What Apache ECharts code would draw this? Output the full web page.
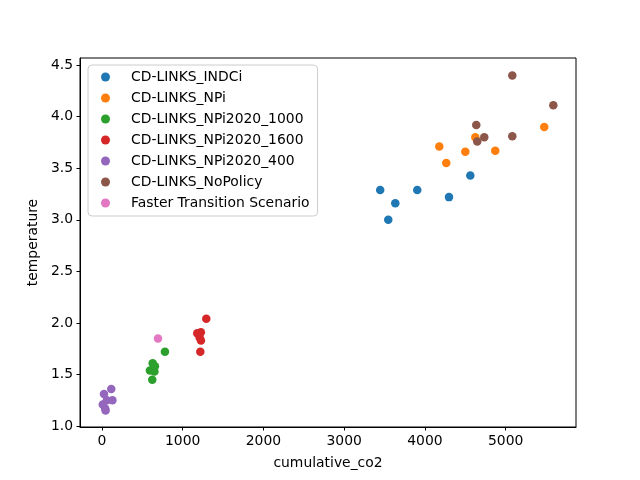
<!DOCTYPE html>
<html>
<head>
<meta charset="utf-8">
<script src="https://cdn.jsdelivr.net/npm/echarts@6/dist/echarts.min.js"></script>
<style>
  html, body { margin: 0; padding: 0; background: #fff; }
  #chart { width: 640px; height: 480px; }
</style>
</head>
<body>
<div id="chart"></div>
<script>
// scenario names and their [cumulative_co2, temperature] points
const scenarios = [
  'CD-LINKS_INDCi',
  'CD-LINKS_NPi',
  'CD-LINKS_NPi2020_1000',
  'CD-LINKS_NPi2020_1600',
  'CD-LINKS_NPi2020_400',
  'CD-LINKS_NoPolicy',
  'Faster Transition Scenario'
]
const colors = ['#1f77b4', '#ff7f0e', '#2ca02c', '#d62728', '#9467bd', '#8c564b', '#e377c2']

const indci = [[3446, 3.29], [3905, 3.29], [3633, 3.16], [3546, 3.00], [4298, 3.22], [4562, 3.43]]
const npi = [[5478, 3.90], [4624, 3.80], [4178, 3.71], [4500, 3.66], [4871, 3.67], [4264, 3.55]]
const npi1000 = [[780, 1.72], [628, 1.61], [656, 1.58], [594, 1.54], [650, 1.53], [623, 1.45]]
const npi1600 = [[1292, 2.04], [1180, 1.90], [1225, 1.91], [1210, 1.86], [1226, 1.83], [1218, 1.72]]
const npi400 = [[115, 1.36], [25, 1.31], [130, 1.25], [60, 1.25], [10, 1.21], [40, 1.17], [45, 1.15]]
const noPolicy = [[5082, 4.40], [5590, 4.11], [4636, 3.92], [4735, 3.80], [4648, 3.76], [5082, 3.81]]
const faster = [[694, 1.85]]

const xTicks = [0, 1000, 2000, 3000, 4000, 5000]
const yTicks = [1.0, 1.5, 2.0, 2.5, 3.0, 3.5, 4.0, 4.5]

const seriesData = [indci, npi, npi1000, npi1600, npi400, noPolicy, faster]

const chart = echarts.init(document.getElementById('chart'))

const labelFont = { fontFamily: 'DejaVu Sans', fontSize: 13.9, color: '#000' }

const option = {
  animation: false,
  grid: {
    left: 80,
    right: 64,
    top: 58,
    bottom: 53,
    show: true,
    borderColor: '#000',
    borderWidth: 1
  },
  legend: {
    orient: 'vertical',
    left: 88,
    top: 65,
    padding: [5, 8, 6, 13],
    itemGap: 7,
    itemWidth: 9,
    itemHeight: 9,
    icon: 'circle',
    backgroundColor: 'rgba(255,255,255,0.8)',
    borderColor: '#cccccc',
    borderWidth: 1,
    borderRadius: 4,
    textStyle: {
      fontFamily: 'DejaVu Sans',
      fontSize: 13.9,
      color: '#000',
      lineHeight: 14,
      padding: [0, 0, 0, 16]
    },
    data: scenarios
  },
  xAxis: {
    type: 'value',
    min: -272,
    max: 5871,
    name: 'cumulative_co2',
    nameLocation: 'middle',
    nameGap: 29,
    nameTextStyle: labelFont,
    splitLine: { show: false },
    axisLine: { show: true, onZero: false, lineStyle: { color: '#000' } },
    axisTick: { show: true, length: 3.5, lineStyle: { color: '#000' }, customValues: xTicks },
    axisLabel: { margin: 7, customValues: xTicks, formatter: v => String(v), ...labelFont }
  },
  yAxis: {
    type: 'value',
    min: 0.991,
    max: 4.569,
    name: 'temperature',
    nameLocation: 'middle',
    nameGap: 38,
    nameTextStyle: labelFont,
    splitLine: { show: false },
    axisLine: { show: true, onZero: false, lineStyle: { color: '#000' } },
    axisTick: { show: true, length: 3.5, lineStyle: { color: '#000' }, customValues: yTicks },
    axisLabel: {
      margin: 7,
      customValues: yTicks,
      formatter: v => v.toFixed(1),
      ...labelFont
    }
  },
  series: scenarios.map((name, i) => ({
    name: name,
    type: 'scatter',
    symbol: 'circle',
    symbolSize: 8.5,
    itemStyle: { color: colors[i], opacity: 1 },
    data: seriesData[i]
  }))
}

chart.setOption(option)
</script>
</body>
</html>
